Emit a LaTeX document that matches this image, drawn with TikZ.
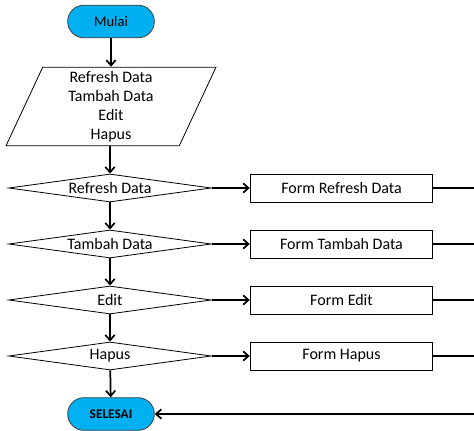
\documentclass[tikz,border=0pt]{standalone}
\usepackage{fontspec}
\setmainfont{Carlito}
\usetikzlibrary{shapes.geometric,shapes.misc,arrows.meta,positioning}
\definecolor{termblue}{RGB}{0,176,240}

\tikzset{
  terminal/.style={rounded rectangle, draw=black!75, fill=termblue, line width=0.6pt,
    minimum width=65pt, minimum height=24.5pt, inner sep=0pt},
  io/.style={trapezium, draw, line width=0.6pt, trapezium left angle=62.6,
    trapezium right angle=117.4, trapezium stretches body,
    minimum width=157.5pt, minimum height=59pt, inner sep=0pt, align=center},
  decision/.style={diamond, draw, line width=0.6pt, aspect=7.2, inner sep=0pt,
    minimum width=152pt, minimum height=21pt},
  formbox/.style={rectangle, draw, line width=0.6pt, minimum width=137pt, minimum height=21pt},
  flow/.style={line width=1.3pt, -{Straight Barb[length=4pt,width=7pt,line width=1.3pt]}}
}

\begin{document}
\begin{tikzpicture}[x=0.75pt,y=-0.75pt,font=\fontsize{12}{14.3}\selectfont]
  \useasboundingbox (0,0) rectangle (474,431);

  % start, input and end
  \node[terminal, font=\fontsize{11}{13}\selectfont] (mulai) at (111,21.5) {Mulai};
  \node[io] (menu) at (111,106.5) {Refresh Data\\Tambah Data\\Edit\\Hapus};
  \node[terminal, font=\fontsize{10}{12}\selectfont\bfseries] (selesai) at (111,414) {SELESAI};
  \coordinate (balik) at (478,414);

  % the choices and their forms
  \foreach \nm/\txt/\y in {refresh/Refresh Data/188, tambah/Tambah Data/244,
                           edit/Edit/300, hapus/Hapus/356} {
    \node[decision] (\nm) at (110,\y) {\txt};
    \node[formbox] (form\nm) at (341.5,\y) {Form \txt};
    \draw[flow] (\nm.east) -- (form\nm.west);
    \draw[line width=1.3pt] (form\nm.east) -- (balik |- form\nm.east);
  }

  % the main line down
  \draw[flow] (mulai) -- (menu);
  \draw[flow] (menu.south -| refresh.north) -- (refresh);
  \draw[flow] (refresh) -- (tambah);
  \draw[flow] (tambah) -- (edit);
  \draw[flow] (edit) -- (hapus);
  \draw[flow] (hapus) -- (selesai);

  % back to the end
  \draw[line width=1.3pt] (balik |- formrefresh.east) -- (balik);
  \draw[flow] (balik) -- (selesai);
\end{tikzpicture}
\end{document}
